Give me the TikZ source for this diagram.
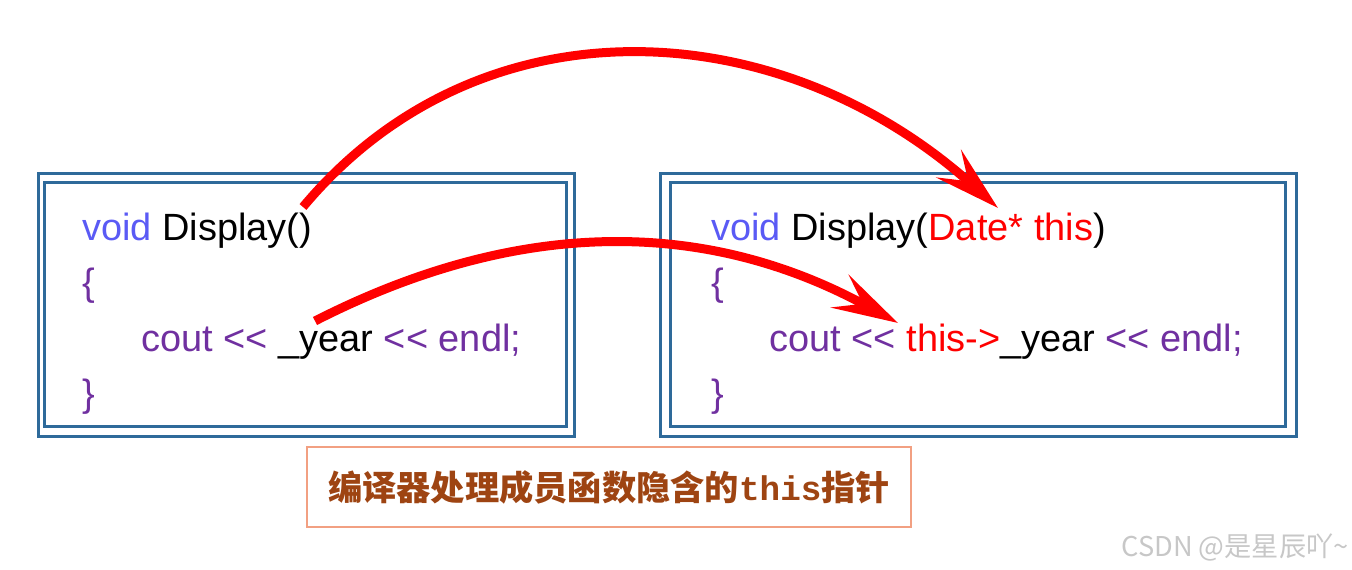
\documentclass[tikz,border=0pt]{standalone}
\usepackage{fontspec}
\setmainfont{Liberation Sans}
\newfontfamily\cjk{Noto Sans CJK SC}
\newfontfamily\monob{Liberation Mono}
\usepackage{tikz}
\usetikzlibrary{arrows.meta}
\definecolor{boxblue}{RGB}{46,106,154}
\definecolor{kwblue}{RGB}{90,90,245}
\definecolor{codepurple}{RGB}{112,48,160}
\definecolor{labelbrown}{RGB}{158,68,18}
\definecolor{labelline}{RGB}{242,160,130}
\tikzset{
  font={\fontsize{21.6pt}{26pt}\selectfont}}

\begin{document}
\begin{tikzpicture}[x=0.02cm, y=-0.02cm,
  code/.style = {anchor=base west, inner sep=0pt},
  frame/.style = {draw=boxblue, line width=0.06cm},
  ptr/.style = {red, line width=0.18cm, -{Stealth[length=1.32cm, width=0.74cm, inset=0.52cm]}}]
\useasboundingbox (0,0) rectangle (1352,570);

% the two frames
\draw[frame] (38.5,174) rectangle (574.5,436.5);
\draw[frame] (44.5,182.5) rectangle (566.5,426.5);
\draw[frame] (660,174) rectangle (1296,436.5);
\draw[frame] (670,183) rectangle (1285,426.5);

% member function as written
\node[code] (l1) at (82,241) {\textcolor{kwblue}{void} Display()};
\node[code] (l2) at (82,296) {\textcolor{codepurple}{\{}};
\node[code] (l3) at (141,352) {\textcolor{codepurple}{cout <{}<} \_year \textcolor{codepurple}{<{}< endl;}};
\node[code] (l4) at (82,407) {\textcolor{codepurple}{\}}};

% member function as the compiler sees it
\node[code] (r1) at (711,241) {\textcolor{kwblue}{void} Display(\textcolor{red}{Date* this})};
\node[code] (r2) at (711,296) {\textcolor{codepurple}{\{}};
\node[code] (r3) at (769,352) {\textcolor{codepurple}{cout <{}<} \textcolor{red}{this->}\_year \textcolor{codepurple}{<{}< endl;}};
\node[code] (r4) at (711,407) {\textcolor{codepurple}{\}}};

\node[draw=labelline, line width=0.04cm, minimum width=12.08cm, minimum height=1.6cm, text=labelbrown,
  font=\cjk\bfseries\fontsize{19.5pt}{24pt}\selectfont] (lab) at (609,487) {编译器处理成员函数隐含的{\monob\bfseries this}指针};
\node[anchor=base east, inner sep=0pt, text=black!22, font=\cjk\fontsize{15.5pt}{18pt}\selectfont] (mark) at (1349,557) {CSDN @是星辰吖\textasciitilde};

\coordinate (s1) at (303,207);
\coordinate (e1) at (998,208);
\coordinate (s2) at (315,321);
\coordinate (e2) at (898,323);
\draw[ptr] (s1) .. controls (480,-5) and (780,12) .. (e1);
\draw[ptr] (s2) .. controls (503,225) and (693,211) .. (e2);
\end{tikzpicture}
\end{document}
